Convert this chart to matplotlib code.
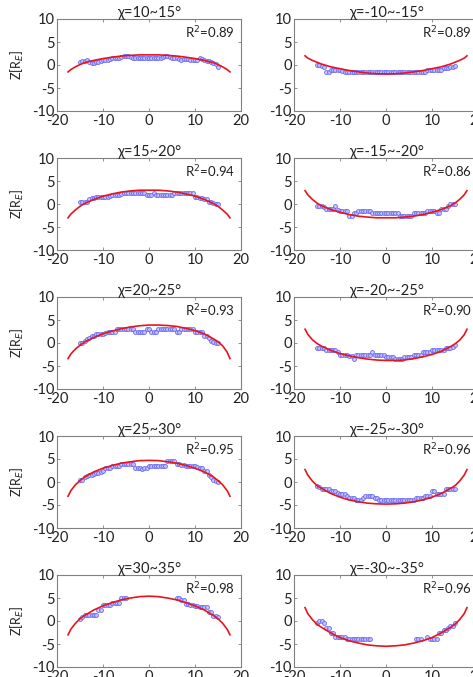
import numpy as np
import matplotlib
matplotlib.use("Agg")
import matplotlib.pyplot as plt

plt.rcParams["font.family"] = ["Lato", "DejaVu Sans"]
plt.rcParams["axes.unicode_minus"] = False

# observed points, x in R_E (shared grid), one y list per panel
X_OBS = [-15, -14.5, -14, -13.5, -13, -12.5, -12, -11.5, -11, -10.5,
         -10, -9.5, -9, -8.5, -8, -7.5, -7, -6.5, -6, -5.5,
         -5, -4.5, -4, -3.5, -3, -2.5, -2, -1.5, -1, -0.5,
         0, 0.5, 1, 1.5, 2, 2.5, 3, 3.5, 4, 4.5,
         5, 5.5, 6, 6.5, 7, 7.5, 8, 8.5, 9, 9.5,
         10, 10.5, 11, 11.5, 12, 12.5, 13, 13.5, 14, 14.5,
         15]
nan = np.nan

obs_10_15 = [0.6, 0.8, 0.9, 1.0, 0.6, 0.5, 0.5, 0.6, 0.6, 0.8,
             1.0, 1.0, 1.0, 1.2, 1.5, 1.5, 1.5, 1.6, 1.8, 2.0,
             2.0, 2.0, 1.8, 1.5, 1.5, 1.5, 1.5, 1.5, 1.5, 1.5,
             1.5, 1.5, 1.5, 1.5, 1.5, 1.5, 1.8, 2.0, 2.0, 1.8,
             1.5, 1.5, 1.5, 1.2, 1.0, 1.2, 1.3, 1.2, 1.0, 1.0,
             1.0, 1.1, 1.5, 1.2, 1.0, 0.8, 0.8, 0.6, 0.5, 0.2,
             -0.5]
obs_m10_15 = [0.0, 0.0, -0.2, -0.5, -1.5, -1.5, -1.0, -1.0, -1.0, -1.0,
              -1.0, -1.3, -1.5, -1.5, -1.5, -1.5, -1.5, -1.5, -1.5, -1.5,
              -1.5, -1.5, -1.5, -1.5, -1.5, -1.5, -1.5, -1.5, -1.5, -1.5,
              -1.5, -1.5, -1.5, -1.5, -1.5, -1.5, -1.5, -1.5, -1.5, -1.5,
              -1.5, -1.5, -1.5, -1.5, -1.5, -1.5, -1.5, -1.5, -1.0, -1.0,
              -1.0, -1.0, -1.0, -1.0, -1.0, -0.7, -0.6, -0.6, -0.5, -0.4,
              -0.3]
obs_15_20 = [0.5, 0.5, 0.5, 0.5, 1.0, 1.2, 1.3, 1.5, 1.5, 1.5,
             1.5, 1.5, 1.5, 1.8, 2.0, 2.0, 2.0, 2.0, 2.2, 2.5,
             2.5, 2.5, 2.5, 2.5, 2.5, 2.5, 2.5, 2.5, 2.5, 2.0,
             2.0, 2.0, 2.5, 2.0, 2.0, 2.0, 2.0, 2.0, 2.0, 2.0,
             2.0, 2.5, 2.5, 2.5, 2.5, 2.5, 2.5, 2.5, 2.5, 2.5,
             1.5, 1.5, 1.2, 1.2, 1.0, 1.0, 0.5, 0.5, 0.3, 0.0,
             0.0]
obs_m15_20 = [-0.5, -0.5, -0.5, -0.7, -1.0, -1.0, -1.0, -1.0, -0.5, -1.2,
              -1.5, -1.5, -1.5, -1.5, -2.5, -2.5, -2.0, -2.0, -1.5, -1.5,
              -1.5, -1.5, -1.5, -1.5, -2.0, -2.0, -2.0, -2.0, -2.0, -2.0,
              -2.0, -2.0, -2.0, -2.0, -2.0, -2.0, -2.5, -2.5, -2.5, -2.5,
              -2.5, -2.5, -2.0, -2.0, -2.0, -2.0, -2.0, -2.0, -1.5, -1.5,
              -1.5, -1.5, -2.0, -2.0, -1.0, -1.0, -1.0, -0.5, 0.0, 0.0,
              0.0]
obs_20_25 = [0.0, 0.0, 0.5, 0.8, 1.0, 1.5, 1.5, 2.0, 2.0, 2.0,
             2.0, 2.2, 2.5, 2.5, 2.5, 2.5, 3.0, 3.0, 3.0, 3.0,
             3.0, 3.0, 3.0, 3.0, 2.5, 2.5, 2.5, 2.5, 2.5, 3.0,
             3.0, 2.5, 2.5, 2.5, 3.0, 3.0, 3.0, 3.0, 3.0, 3.0,
             3.0, 3.0, 2.5, 2.5, 3.0, 3.0, 3.0, 3.0, 3.0, 3.0,
             2.5, 2.5, 2.5, 2.5, 1.5, 1.5, 1.0, 0.5, 0.3, 0.0,
             0.0]
obs_m20_25 = [-1.0, -1.0, -1.0, -1.0, -1.5, -1.5, -1.5, -1.5, -1.5, -2.0,
              -2.5, -2.5, -2.5, -2.5, -2.8, -2.8, -3.5, -2.5, -2.5, -2.5,
              -2.5, -2.5, -2.5, -2.5, -2.0, -2.5, -2.5, -2.5, -2.5, -2.5,
              -3.0, -3.0, -3.0, -3.0, -3.5, -3.5, -3.5, -3.5, -3.0, -3.0,
              -3.0, -3.0, -2.5, -2.5, -2.5, -2.5, -2.0, -2.0, -2.0, -2.0,
              -1.5, -1.5, -1.5, -1.5, -1.5, -1.5, -1.0, -1.0, -1.0, -0.8,
              -0.5]
obs_25_30 = [0.5, 0.5, 1.0, 1.2, 1.5, 1.5, 1.8, 2.0, 2.0, 2.2,
             2.5, 3.0, 3.0, 3.0, 3.5, 3.5, 3.5, 3.5, 4.0, 4.0,
             4.0, 4.0, 4.0, 4.0, 3.0, 3.0, 3.0, 2.8, 3.0, 3.0,
             3.5, 3.5, 3.5, 3.5, 3.5, 3.5, 3.5, 3.5, 4.5, 4.5,
             4.5, 4.5, 4.0, 4.0, 3.8, 3.8, 3.5, 3.5, 3.5, 3.5,
             3.5, 3.2, 3.0, 3.0, 2.5, 2.5, 1.5, 1.0, 0.5, 0.3,
             0.0]
obs_m25_30 = [-0.8, -1.0, -1.5, -1.5, -1.5, -1.5, -2.0, -2.0, -2.0, -2.3,
              -2.5, -2.5, -2.5, -3.0, -3.5, -3.5, -3.5, -4.0, -4.0, -4.0,
              -3.5, -3.0, -3.0, -3.0, -3.0, -3.5, -3.5, -4.0, -4.0, -4.0,
              -4.0, -4.0, -4.0, -4.0, -4.0, -4.0, -4.0, -4.0, -4.0, -4.0,
              -4.0, -4.0, -4.0, -3.5, -3.5, -3.5, -3.5, -3.0, -3.0, -3.0,
              -2.0, -2.0, -2.5, -2.5, -2.5, -2.5, -1.5, -1.5, -1.5, -1.5,
              -1.5]
obs_30_35 = [0.5, 0.8, 1.2, 1.2, 1.2, 1.2, 1.2, 1.2, 2.5, 2.5,
             3.5, 3.5, 3.5, 3.5, 4.0, 4.0, 4.0, 4.0, 5.0, 5.0,
             5.0, nan, nan, nan, nan, nan, nan, nan, nan, nan,
             nan, nan, nan, nan, nan, nan, nan, nan, nan, nan,
             nan, nan, 5.0, 5.0, 4.5, 4.5, 3.8, 3.8, 3.5, 3.5,
             3.2, 3.2, 3.0, 3.0, 3.0, 3.0, 2.0, 2.0, 1.0, 1.0,
             0.8]
obs_m30_35 = [-0.5, 0.0, 0.0, -0.5, -1.5, -1.5, -2.5, -2.5, -3.5, -3.5,
              -3.5, -3.5, -3.5, -4.0, -4.0, -4.0, -4.0, -4.0, -4.0, -4.0,
              -4.0, -4.0, -4.0, -4.0, nan, nan, nan, nan, nan, nan,
              nan, nan, nan, nan, nan, nan, nan, nan, nan, nan,
              nan, nan, nan, -4.0, -4.0, -4.0, nan, nan, -3.5, -4.0,
              -4.0, -4.0, -4.0, -2.5, -2.5, -2.0, -2.0, -1.5, -1.0, -1.0,
              -0.5]

# fitted curves
X_FIT = [-17.6, -17, -16, -15, -14, -12, -10, -8, -6, -4, -2, 0,
         2, 4, 6, 8, 10, 12, 14, 15, 16, 17, 17.6]
fit_10_15 = [-1.5, -1.0, -0.4, 0.1, 0.5, 1.0, 1.4, 1.7, 1.95, 2.1, 2.2, 2.2,
             2.2, 2.1, 1.95, 1.7, 1.4, 1.0, 0.5, 0.1, -0.4, -1.0, -1.5]
fit_m10_15 = [2.0, 1.5, 1.0, 0.6, 0.2, -0.4, -0.8, -1.2, -1.5, -1.75, -1.9, -1.95,
              -1.9, -1.75, -1.5, -1.2, -0.8, -0.4, 0.2, 0.6, 1.0, 1.5, 2.0]
fit_15_20 = [-3.0, -2.2, -1.3, -0.5, 0.1, 1.0, 1.7, 2.2, 2.6, 2.85, 3.0, 3.0,
             3.0, 2.85, 2.6, 2.2, 1.7, 1.0, 0.1, -0.5, -1.3, -2.2, -3.0]
fit_m15_20 = [2.9, 2.0, 1.0, 0.2, -0.4, -1.2, -1.8, -2.3, -2.65, -2.85, -3.0, -3.0,
              -3.0, -2.85, -2.65, -2.3, -1.8, -1.2, -0.4, 0.2, 1.0, 2.0, 2.9]
fit_20_25 = [-3.4, -2.4, -1.3, -0.5, 0.2, 1.2, 2.0, 2.6, 3.1, 3.5, 3.75, 3.9,
             3.9, 3.8, 3.6, 3.2, 2.7, 2.0, 0.9, 0.3, -0.6, -2.0, -3.4]
fit_m20_25 = [3.0, 1.9, 0.7, -0.1, -0.7, -1.6, -2.3, -2.8, -3.2, -3.5, -3.7, -3.8,
              -3.8, -3.7, -3.4, -3.0, -2.5, -1.8, -0.8, -0.2, 0.6, 1.8, 3.0]
fit_25_30 = [-3.1, -1.9, -0.6, 0.3, 1.1, 2.2, 3.0, 3.6, 4.1, 4.4, 4.65, 4.7,
             4.65, 4.4, 4.1, 3.6, 3.0, 2.2, 1.1, 0.3, -0.6, -1.9, -3.1]
fit_m25_30 = [2.7, 1.5, 0.2, -0.8, -1.4, -2.5, -3.3, -3.9, -4.3, -4.6, -4.75, -4.8,
              -4.75, -4.6, -4.3, -3.9, -3.3, -2.5, -1.4, -0.8, 0.2, 1.5, 2.7]
fit_30_35 = [-3.0, -1.8, -0.5, 0.5, 1.2, 2.4, 3.3, 4.0, 4.6, 5.0, 5.3, 5.4,
             5.3, 5.0, 4.6, 4.0, 3.3, 2.4, 1.2, 0.5, -0.5, -1.8, -3.0]
fit_m30_35 = [2.9, 1.6, 0.3, -0.7, -1.4, -2.6, -3.6, -4.3, -4.8, -5.2, -5.4, -5.5,
              -5.4, -5.2, -4.8, -4.3, -3.6, -2.6, -1.4, -0.7, 0.3, 1.6, 2.9]

TITLES = ["χ=10~15°", "χ=-10~-15°", "χ=15~20°", "χ=-15~-20°",
          "χ=20~25°", "χ=-20~-25°", "χ=25~30°", "χ=-25~-30°",
          "χ=30~35°", "χ=-30~-35°"]
R2 = ["0.89", "0.89", "0.94", "0.86", "0.93", "0.90", "0.95", "0.96", "0.98", "0.96"]
OBS = [obs_10_15, obs_m10_15, obs_15_20, obs_m15_20, obs_20_25,
       obs_m20_25, obs_25_30, obs_m25_30, obs_30_35, obs_m30_35]
FITS = [fit_10_15, fit_m10_15, fit_15_20, fit_m15_20, fit_20_25,
        fit_m20_25, fit_25_30, fit_m25_30, fit_30_35, fit_m30_35]

W, H = 473, 677
fig = plt.figure(figsize=(W / 100, H / 100), dpi=100)

for i in range(10):
    row, col = divmod(i, 2)
    left = 57 if col == 0 else 294
    top = 19 + 139 * row
    ax = fig.add_axes([left / W, 1 - (top + 92) / H, 184 / W, 92 / H])

    ax.plot(X_OBS, OBS[i], linestyle="none", marker="o", ms=2.8,
            mfc=(0.78, 0.78, 1.0), mec=(0.38, 0.38, 0.95), mew=0.7,
            alpha=0.85, zorder=2)
    ax.plot(X_FIT, FITS[i], color="#e8141c", lw=1.2, zorder=3)

    ax.set_xlim(-20, 20)
    ax.set_ylim(-10, 10)
    ax.set_xticks([-20, -10, 0, 10, 20])
    ax.set_yticks([-10, -5, 0, 5, 10])
    ax.tick_params(direction="in", length=2.5, width=0.6, color="#808080",
                   labelsize=10.5, labelcolor="#222222", pad=1.5,
                   top=True, right=True)
    ax.tick_params(axis="x", pad=2.5)
    for sp in ax.spines.values():
        sp.set_color("#808080")
        sp.set_linewidth(0.8)

    ax.set_title(TITLES[i], fontsize=10.5, pad=1.5, color="#222222")
    ax.text(0.967, 0.85, "R$^2$=" + R2[i], transform=ax.transAxes,
            ha="right", va="center", fontsize=9.5, color="#222222")
    if col == 0:
        ax.set_ylabel("Z[R$_E$]", fontsize=9, labelpad=5, color="#222222")

fig.savefig("out.png", dpi=100)
